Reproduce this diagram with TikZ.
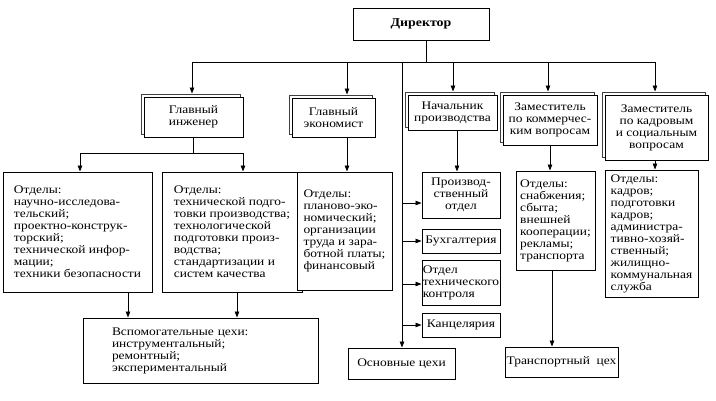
\documentclass[tikz,border=0pt]{standalone}
\usepackage{fontspec}
\setmainfont{Liberation Serif}[FakeStretch=1.16]
\usetikzlibrary{arrows.meta,shadows}
\begin{document}
\begin{tikzpicture}[x=1pt,y=-1pt,
  line width=0.8pt,
  txt/.style={font=\fontsize{11.6}{12}\selectfont},
  bx/.style 2 args={draw,line width=0.9pt,fill=white,inner sep=0pt,minimum width=#1,minimum height=#2,txt},
  shbox/.style 2 args={bx={#1}{#2},align=center,
     general shadow={draw=black!75,fill=white,line width=0.9pt,shadow xshift=-3pt,shadow yshift=3pt}},
  lbox/.style 2 args={bx={#1}{#2},align=left},
  cbox/.style 2 args={bx={#1}{#2},align=center},
  arr/.style={-{Triangle[length=6pt,width=4.5pt]}}]
\useasboundingbox (0,0) rectangle (716,400);

% top
\node[cbox={136}{32},font=\fontsize{12}{12}\selectfont\bfseries] (dir) at (421,24) {Директор};

% second level
\node[shbox={99}{40}] (gi) at (193.5,117) {Главный\\инженер};
\node[shbox={83}{39}] (ge) at (333.5,117.5) {Главный\\экономист};
\node[shbox={89}{35}] (np) at (452.5,112.5) {Начальник\\производства};
\node[shbox={94}{50}] (zk) at (550,120) {Заместитель\\по коммерчес-\\ким вопросам};
\node[shbox={103}{65}] (zkad) at (656.5,127.5) {Заместитель\\по кадровым\\и социальным\\вопросам};

% third level
\node[lbox={149}{120}] (o1) at (77.5,232) {Отделы:\\научно-исследова-\\тельский;\\проектно-конструк-\\торский;\\технической инфор-\\мации;\\техники безопасности};
\node[lbox={140}{120}] (o2) at (232,232) {Отделы:\\технической подго-\\товки производства;\\технологической\\подготовки произ-\\водства;\\стандартизации и\\систем качества};
\node[lbox={95}{118}] (oe) at (344.5,231) {Отделы:\\планово-эко-\\номический;\\организации\\труда и зара-\\ботной платы;\\финансовый};
\node[cbox={78}{46}] (pr) at (461,195) {Производ-\\ственный\\отдел};
\node[cbox={78}{24}] (bu) at (461,241) {Бухгалтерия};
\node[lbox={78}{45}] (otk) at (461,282.5) {Отдел\\технического\\контроля};
\node[cbox={78}{24}] (ka) at (461,325) {Канцелярия};
\node[lbox={79}{99}] (ok) at (555.5,220.5) {Отделы:\\снабжения;\\сбыта;\\внешней\\кооперации;\\рекламы;\\транспорта};
\node[lbox={93}{127}] (okad) at (651.5,233.5) {Отделы:\\кадров;\\подготовки\\кадров;\\администра-\\тивно-хозяй-\\ственный;\\жилищно-\\коммунальная\\служба};

% bottom
\node[lbox={235}{65},text width=177pt] (vsp) at (200.5,350.5) {Вспомогательные цехи:\\инструментальный;\\ремонтный;\\экспериментальный};
\node[cbox={107}{31}] (osn) at (401.5,363.5) {Основные цехи};
\node[cbox={113}{30}] (tr) at (561.5,362) {Транспортный\ \ цех};

% bus
\coordinate (bus) at (426,62);
\coordinate (b1) at (192,62);
\coordinate (b2) at (347,62);
\coordinate (b0) at (402,62);
\coordinate (b3) at (453,62);
\coordinate (b4) at (548,62);
\coordinate (b5) at (655,62);
\draw (dir.south -| bus) -- (bus);
\draw (b1) -- (b5);
\draw[arr] (b1) -- ([yshift=3pt]gi.north -| b1);
\draw[arr] (b2) -- ([yshift=3pt]ge.north -| b2);
\draw[arr] (b3) -- ([yshift=3pt]np.north -| b3);
\draw[arr] (b4) -- ([yshift=3pt]zk.north -| b4);
\draw[arr] (b5) -- ([yshift=3pt]zkad.north -| b5);
\draw[arr] (b0) -- (osn.north -| b0);

% side arrows
\draw[arr] ([yshift=-8pt]b0 |- pr.west) -- ([yshift=-8pt]pr.west);
\draw[arr] (b0 |- bu.west) -- (bu.west);
\draw[arr] ([yshift=-1.5pt]b0 |- otk.west) -- ([yshift=-1.5pt]otk.west);
\draw[arr] (b0 |- ka.west) -- (ka.west);

% chief engineer branches
\coordinate (g1) at (80,153);
\coordinate (g2) at (243,153);
\draw (gi.south) -- (gi.south |- g1);
\draw (g1) -- (g2);
\draw[arr] (g1) -- (g1 |- o1.north);
\draw[arr] (g2) -- (g2 |- o2.north);

% economist
\draw[arr] (ge.south -| b2) -- (oe.north -| b2);
% production head
\coordinate (p1) at (457,0);
\draw[arr] (np.south -| p1) -- (pr.north -| p1);
% commercial
\draw[arr] (zk.south) -- (zk.south |- ok.north);
% personnel
\draw[arr] (zkad.south -| b5) -- (okad.north -| b5);

% to auxiliary shops
\coordinate (v1) at (128,0);
\coordinate (v2) at (237,0);
\draw[arr] (o1.south -| v1) -- (vsp.north -| v1);
\draw[arr] (o2.south -| v2) -- (vsp.north -| v2);
% to transport shop
\coordinate (t1) at (552,0);
\draw[arr] (ok.south -| t1) -- (tr.north -| t1);
\end{tikzpicture}
\end{document}
